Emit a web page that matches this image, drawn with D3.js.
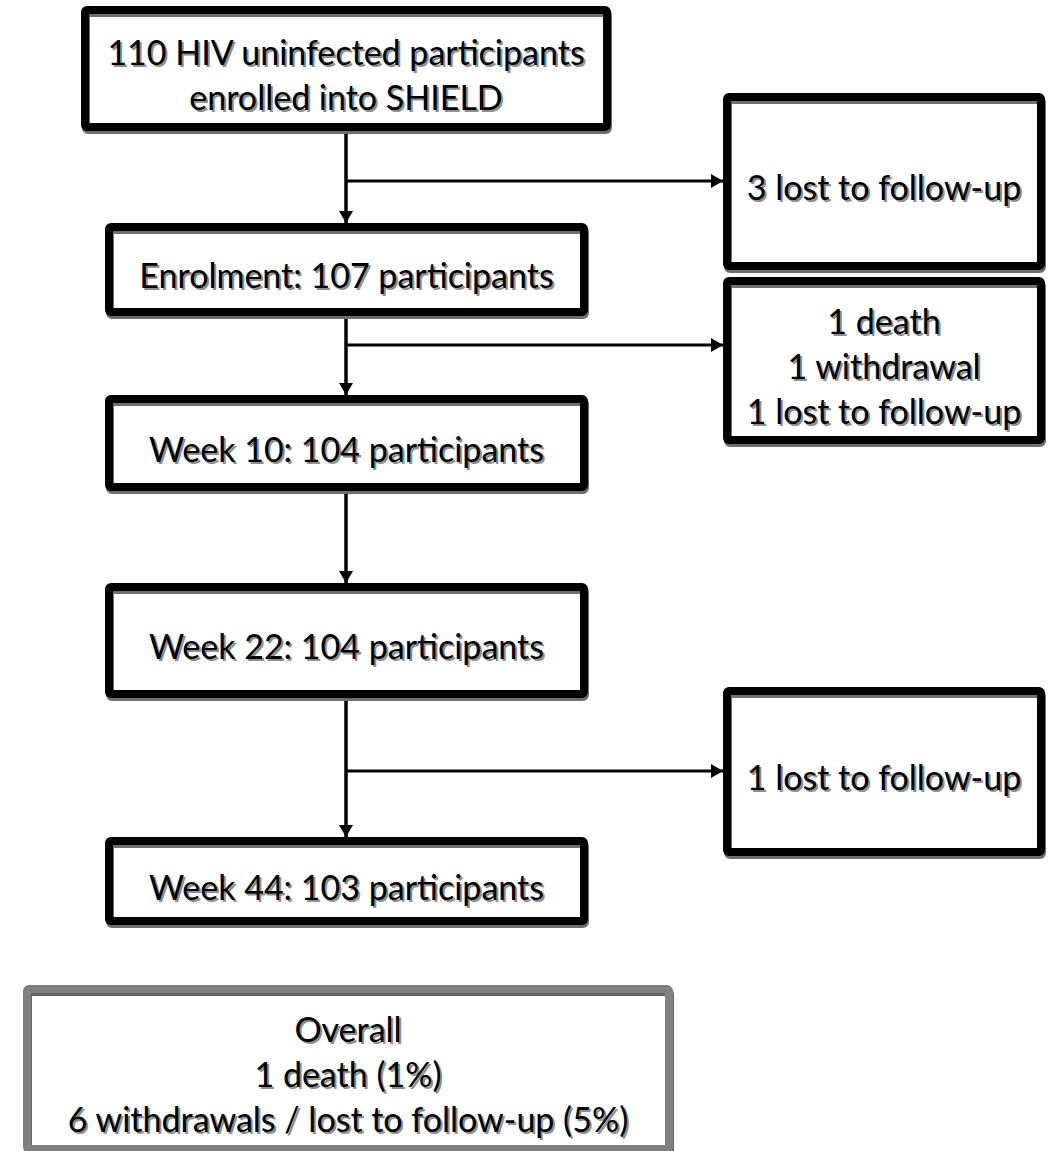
<!DOCTYPE html>
<html>
<head>
<meta charset="utf-8">
<script src="https://cdn.jsdelivr.net/npm/d3@7"></script>
<style>
  body { margin: 0; background: #fff; }
  svg { display: block; }
</style>
</head>
<body>
<svg width="1056" height="1151"></svg>
<script>
// participant counts at each stage of follow-up
const stageNames = ["", "Enrolment", "Week 10", "Week 22", "Week 44"];
const stageCounts = [110, 107, 104, 104, 103];
// losses between stages (index = stage the loss happens after)
const exitFrom = [0, 1, 3];
const exitLines = [
  ["3 lost to follow-up"],
  ["1 death", "1 withdrawal", "1 lost to follow-up"],
  ["1 lost to follow-up"]
];
const summaryLines = ["Overall", "1 death (1%)", "6 withdrawals / lost to follow-up (5%)"];

// diagram layout (outer edges of each box, in px)
const mainLayout = [
  { x0: 81, x1: 611, y0: 6, y1: 131 },
  { x0: 105, x1: 588, y0: 223, y1: 316 },
  { x0: 105, x1: 588, y0: 395, y1: 491 },
  { x0: 105, x1: 588, y0: 583, y1: 698 },
  { x0: 105, x1: 588, y0: 837, y1: 925 }
];
const exitLayout = [
  { x0: 723, x1: 1045, y0: 93, y1: 270, branch: 181 },
  { x0: 723, x1: 1045, y0: 277, y1: 444, branch: 345 },
  { x0: 723, x1: 1045, y0: 687, y1: 856, branch: 771 }
];
const summaryLayout = { x0: 23, x1: 673, y0: 985, y1: 1153 };

const svg = d3.select("svg");
const font = "Lato, 'Open Sans', sans-serif";
const fontSize = 34;
const lineGap = 45;
const border = 8;
const spineX = 346;

const mainText = stageNames.map((s, i) => i === 0
  ? [`${stageCounts[i]} HIV uninfected participants`, "enrolled into SHIELD"]
  : [`${s}: ${stageCounts[i]} participants`]);

// arrowhead
svg.append("defs").append("marker")
  .attr("id", "head")
  .attr("viewBox", "0 0 12 14")
  .attr("refX", 12).attr("refY", 7)
  .attr("markerWidth", 12).attr("markerHeight", 14)
  .attr("markerUnits", "userSpaceOnUse")
  .attr("orient", "auto")
  .append("path")
  .attr("d", "M0,0L12,7L0,14Z")
  .attr("fill", "#000");

const links = svg.append("g");

// vertical connectors between stages
d3.pairs(mainLayout).forEach(([a, b]) => {
  links.append("line")
    .attr("x1", spineX).attr("x2", spineX)
    .attr("y1", a.y1).attr("y2", b.y0)
    .attr("stroke", "#000").attr("stroke-width", 3.5)
    .attr("marker-end", "url(#head)");
});

// side branches to the loss boxes
exitLayout.forEach(e => {
  links.append("line")
    .attr("x1", spineX).attr("x2", e.x0)
    .attr("y1", e.branch).attr("y2", e.branch)
    .attr("stroke", "#000").attr("stroke-width", 3)
    .attr("marker-end", "url(#head)");
});

function drawBox(g, b, lines, stroke, shadow, textDy) {
  const x = b.x0 + border / 2, y = b.y0 + border / 2;
  const w = b.x1 - b.x0 - border, h = b.y1 - b.y0 - border;
  g.append("rect").attr("x", x).attr("y", y).attr("width", w).attr("height", h)
    .attr("fill", "#fff");
  g.append("rect").attr("x", x + 1).attr("y", y + 3).attr("width", w).attr("height", h)
    .attr("fill", "none").attr("stroke", shadow).attr("stroke-width", border)
    .attr("rx", 2);
  g.append("rect").attr("x", x).attr("y", y).attr("width", w).attr("height", h)
    .attr("fill", "none").attr("stroke", stroke).attr("stroke-width", border)
    .attr("rx", 2);

  const cx = (b.x0 + b.x1) / 2;
  const cy = (b.y0 + b.y1) / 2 + (textDy || 0);
  const top = cy - (lines.length - 1) * lineGap / 2;
  // soft grey text shadow, then the text itself
  [["#8f8f8f", 2, 2], ["#000", 0, 0]].forEach(([fill, dx, dy]) => {
    g.selectAll(null)
      .data(lines)
      .join("text")
      .attr("x", cx + dx)
      .attr("y", (d, i) => top + i * lineGap + dy)
      .attr("text-anchor", "middle")
      .attr("dominant-baseline", "central")
      .attr("font-family", font)
      .attr("font-size", fontSize)
      .attr("fill", fill)
      .text(d => d);
  });
}

const boxes = svg.append("g");
mainLayout.forEach((b, i) => drawBox(boxes.append("g"), b, mainText[i], "#000", "#6e6e6e", 5));
exitLayout.forEach((b, i) => drawBox(boxes.append("g"), b, exitLines[i], "#000", "#6e6e6e", 5));
drawBox(boxes.append("g"), summaryLayout, summaryLines, "#808080", "#666", 4);
</script>
</body>
</html>
